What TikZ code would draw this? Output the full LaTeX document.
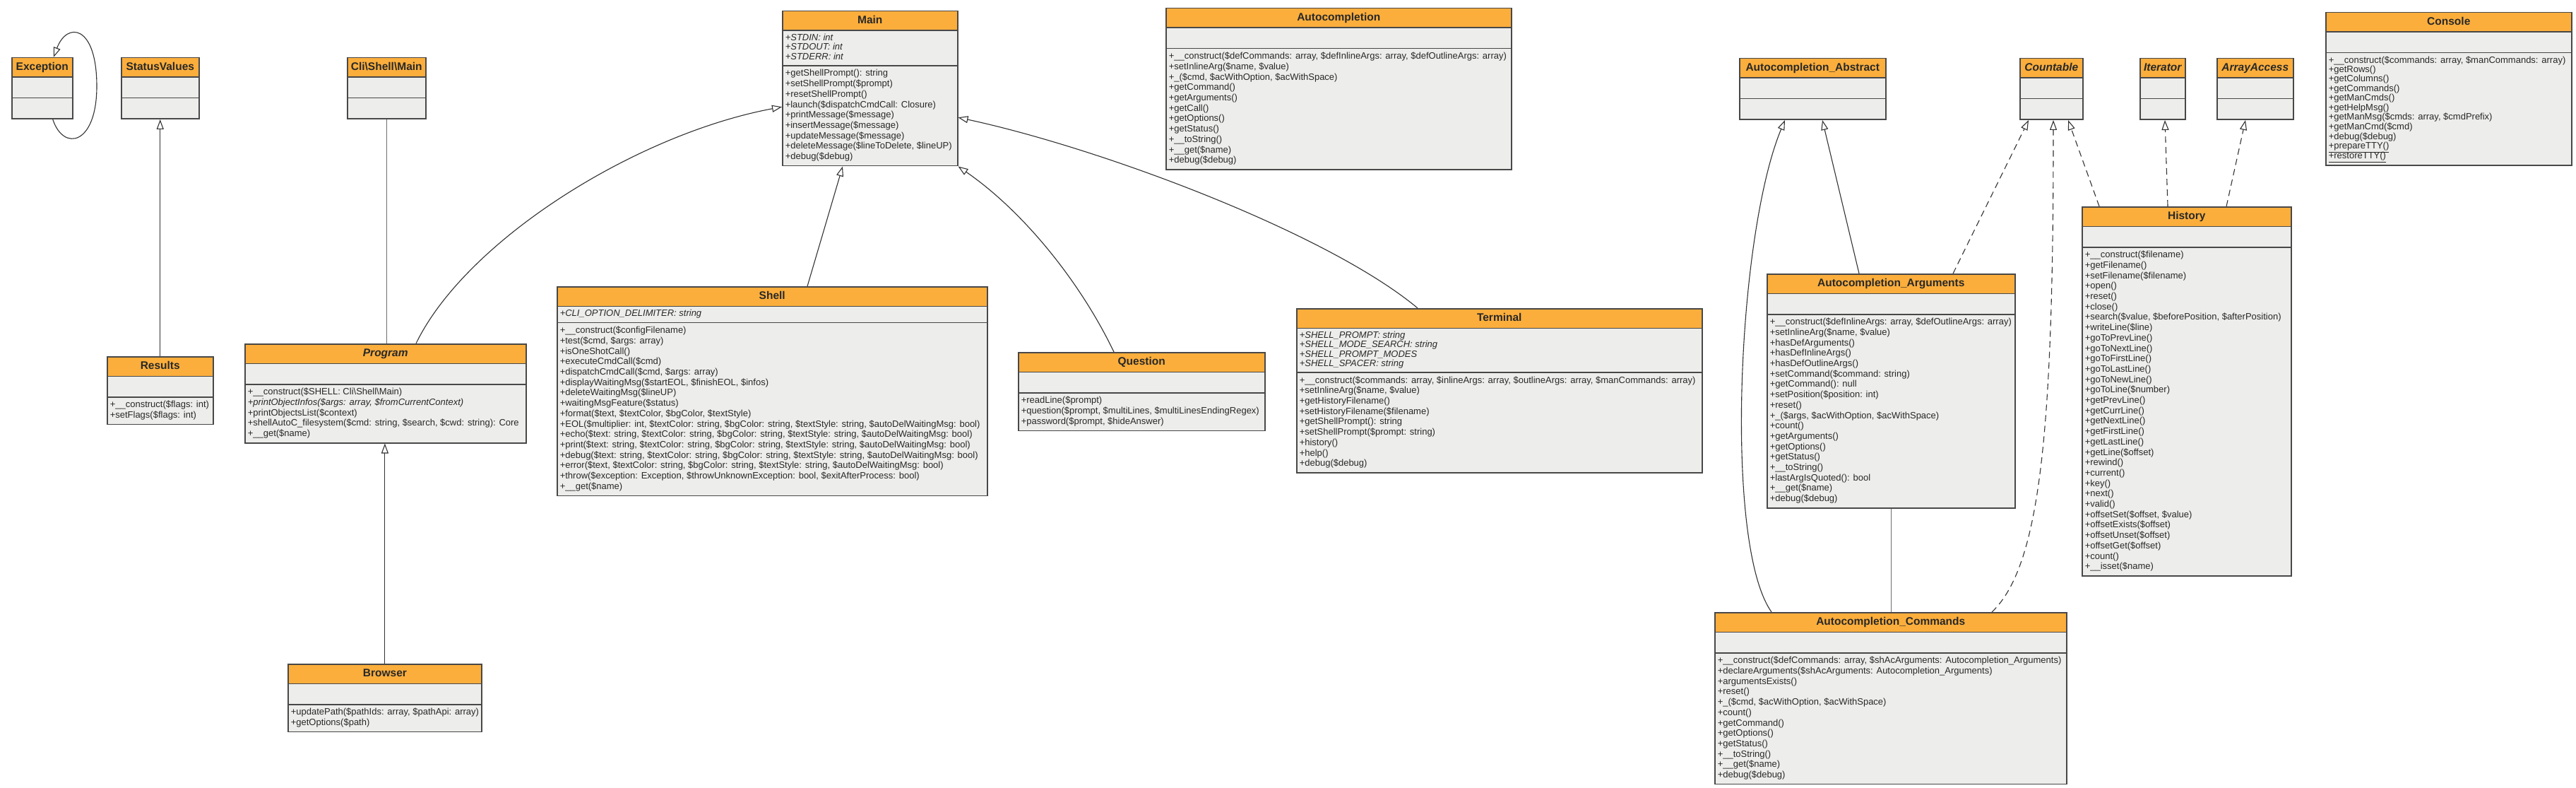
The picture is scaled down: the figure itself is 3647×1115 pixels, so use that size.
\documentclass[tikz,border=0pt]{standalone}
\usepackage{fontspec}
\setmainfont{Liberation Sans}
\usetikzlibrary{shapes.multipart,arrows.meta}
\definecolor{headc}{RGB}{251,174,60}
\definecolor{bodyc}{RGB}{237,237,235}
\definecolor{edgec}{RGB}{72,72,72}
\definecolor{txtc}{RGB}{40,40,40}
\definecolor{linec}{RGB}{50,50,50}
\definecolor{assocc}{RGB}{110,110,110}
\newcommand{\cname}[1]{\rule[-5pt]{0pt}{18pt}{\fontsize{15.5}{17}\selectfont\bfseries #1}}
\newcommand{\nopart}{\rule{0pt}{20pt}}
\newcommand{\mlist}[2][1]{{\renewcommand{\arraystretch}{#1}\begin{tabular}{@{}l@{}}#2\end{tabular}}}

\begin{document}
\begin{tikzpicture}[x=1pt, y=-1pt,
    cls/.style={rectangle split, rectangle split parts=3,
      rectangle split part align={center,left,left},
      rectangle split part fill={headc,bodyc,bodyc},
      draw=edgec, line width=1.5pt, anchor=north west,
      inner xsep=4pt, inner ysep=4pt, text=txtc,
      font=\fontsize{13}{14.7}\selectfont},
    inh/.style={draw=linec, line width=1.1pt, -{Triangle[open, length=14pt, width=10pt, fill=white]}},
    real/.style={inh, dash pattern=on 9pt off 6pt},
    assoc/.style={draw=assocc, line width=1.5pt}]

    \fill[white] (0,0) rectangle (3647,1115);
    \useasboundingbox (0,0) rectangle (3647,1115);

    % Top row
    \node[cls, minimum width=86] (exception) at (16,81) {\cname{Exception}\nodepart{two}\nopart\nodepart{three}\nopart};
    \node[cls, minimum width=110] (statusv) at (171,81) {\cname{StatusValues}\nodepart{two}\nopart\nodepart{three}\nopart};
    \node[cls, minimum width=111] (climain) at (491,81) {\cname{Cli\textbackslash Shell\textbackslash Main}\nodepart{two}\nopart\nodepart{three}\nopart};

    \node[cls, minimum width=248] (main) at (1107,15) {\cname{Main}
      \nodepart{two}\mlist[0.9]{\textit{+STDIN: int}\\\textit{+STDOUT: int}\\\textit{+STDERR: int}}
      \nodepart{three}\mlist{+getShellPrompt(): string\\+setShellPrompt(\$prompt)\\+resetShellPrompt()\\+launch(\$dispatchCmdCall: Closure)\\+printMessage(\$message)\\+insertMessage(\$message)\\+updateMessage(\$message)\\+deleteMessage(\$lineToDelete, \$lineUP)\\+debug(\$debug)}};

    \node[cls, minimum width=489] (autoc) at (1650,11) {\cname{Autocompletion}
      \nodepart{two}\nopart
      \nodepart{three}\mlist{+\_\_construct(\$defCommands: array, \$defInlineArgs: array, \$defOutlineArgs: array)\\+setInlineArg(\$name, \$value)\\+\_(\$cmd, \$acWithOption, \$acWithSpace)\\+getCommand()\\+getArguments()\\+getCall()\\+getOptions()\\+getStatus()\\+\_\_toString()\\+\_\_get(\$name)\\+debug(\$debug)}};

    \node[cls, minimum width=207] (acabs) at (2462,82) {\cname{Autocompletion\_Abstract}\nodepart{two}\nopart\nodepart{three}\nopart};
    \node[cls, minimum width=89] (countable) at (2859,82) {\cname{\itshape Countable}\nodepart{two}\nopart\nodepart{three}\nopart};
    \node[cls, minimum width=64] (iterator) at (3029,82) {\cname{\itshape Iterator}\nodepart{two}\nopart\nodepart{three}\nopart};
    \node[cls, minimum width=108] (arrayacc) at (3138,82) {\cname{\itshape ArrayAccess}\nodepart{two}\nopart\nodepart{three}\nopart};

    \node[cls, minimum width=348] (console) at (3292,17) {\cname{Console}
      \nodepart{two}\nopart
      \nodepart{three}\mlist[0.91]{+\_\_construct(\$commands: array, \$manCommands: array)\\+getRows()\\+getColumns()\\+getCommands()\\+getManCmds()\\+getHelpMsg()\\+getManMsg(\$cmds: array, \$cmdPrefix)\\+getManCmd(\$cmd)\\+debug(\$debug)\\\underline{+prepareTTY()}\\\underline{+restoreTTY()}}};

    % Middle row
    \node[cls, minimum width=150] (results) at (151,504) {\cname{Results}
      \nodepart{two}\nopart
      \nodepart{three}\mlist{+\_\_construct(\$flags: int)\\+setFlags(\$flags: int)}};

    \node[cls, minimum width=398] (program) at (346,486) {\cname{\itshape Program}
      \nodepart{two}\nopart
      \nodepart{three}\mlist{+\_\_construct(\$SHELL: Cli\textbackslash Shell\textbackslash Main)\\\textit{+printObjectInfos(\$args: array, \$fromCurrentContext)}\\+printObjectsList(\$context)\\+shellAutoC\_filesystem(\$cmd: string, \$search, \$cwd: string): Core\\+\_\_get(\$name)}};

    \node[cls, minimum width=609] (shell) at (788,405) {\cname{Shell}
      \nodepart{two}\mlist[0.95]{\textit{+CLI\_OPTION\_DELIMITER: string}}
      \nodepart{three}\mlist{+\_\_construct(\$configFilename)\\+test(\$cmd, \$args: array)\\+isOneShotCall()\\+executeCmdCall(\$cmd)\\+dispatchCmdCall(\$cmd, \$args: array)\\+displayWaitingMsg(\$startEOL, \$finishEOL, \$infos)\\+deleteWaitingMsg(\$lineUP)\\+waitingMsgFeature(\$status)\\+format(\$text, \$textColor, \$bgColor, \$textStyle)\\+EOL(\$multiplier: int, \$textColor: string, \$bgColor: string, \$textStyle: string, \$autoDelWaitingMsg: bool)\\+echo(\$text: string, \$textColor: string, \$bgColor: string, \$textStyle: string, \$autoDelWaitingMsg: bool)\\+print(\$text: string, \$textColor: string, \$bgColor: string, \$textStyle: string, \$autoDelWaitingMsg: bool)\\+debug(\$text: string, \$textColor: string, \$bgColor: string, \$textStyle: string, \$autoDelWaitingMsg: bool)\\+error(\$text, \$textColor: string, \$bgColor: string, \$textStyle: string, \$autoDelWaitingMsg: bool)\\+throw(\$exception: Exception, \$throwUnknownException: bool, \$exitAfterProcess: bool)\\+\_\_get(\$name)}};

    \node[cls, minimum width=349] (question) at (1441,498) {\cname{Question}
      \nodepart{two}\nopart
      \nodepart{three}\mlist{+readLine(\$prompt)\\+question(\$prompt, \$multiLines, \$multiLinesEndingRegex)\\+password(\$prompt, \$hideAnswer)}};

    \node[cls, minimum width=574] (terminal) at (1835,436) {\cname{Terminal}
      \nodepart{two}\mlist[0.9]{\textit{+SHELL\_PROMPT: string}\\\textit{+SHELL\_MODE\_SEARCH: string}\\\textit{+SHELL\_PROMPT\_MODES}\\\textit{+SHELL\_SPACER: string}}
      \nodepart{three}\mlist{+\_\_construct(\$commands: array, \$inlineArgs: array, \$outlineArgs: array, \$manCommands: array)\\+setInlineArg(\$name, \$value)\\+getHistoryFilename()\\+setHistoryFilename(\$filename)\\+getShellPrompt(): string\\+setShellPrompt(\$prompt: string)\\+history()\\+help()\\+debug(\$debug)}};

    \node[cls, minimum width=351] (acargs) at (2501,387) {\cname{Autocompletion\_Arguments}
      \nodepart{two}\nopart
      \nodepart{three}\mlist{+\_\_construct(\$defInlineArgs: array, \$defOutlineArgs: array)\\+setInlineArg(\$name, \$value)\\+hasDefArguments()\\+hasDefInlineArgs()\\+hasDefOutlineArgs()\\+setCommand(\$command: string)\\+getCommand(): null\\+setPosition(\$position: int)\\+reset()\\+\_(\$args, \$acWithOption, \$acWithSpace)\\+count()\\+getArguments()\\+getOptions()\\+getStatus()\\+\_\_toString()\\+lastArgIsQuoted(): bool\\+\_\_get(\$name)\\+debug(\$debug)}};

    \node[cls, minimum width=296] (history) at (2947,292) {\cname{History}
      \nodepart{two}\nopart
      \nodepart{three}\mlist{+\_\_construct(\$filename)\\+getFilename()\\+setFilename(\$filename)\\+open()\\+reset()\\+close()\\+search(\$value, \$beforePosition, \$afterPosition)\\+writeLine(\$line)\\+goToPrevLine()\\+goToNextLine()\\+goToFirstLine()\\+goToLastLine()\\+goToNewLine()\\+goToLine(\$number)\\+getPrevLine()\\+getCurrLine()\\+getNextLine()\\+getFirstLine()\\+getLastLine()\\+getLine(\$offset)\\+rewind()\\+current()\\+key()\\+next()\\+valid()\\+offsetSet(\$offset, \$value)\\+offsetExists(\$offset)\\+offsetUnset(\$offset)\\+offsetGet(\$offset)\\+count()\\+\_\_isset(\$name)}};

    % Bottom row
    \node[cls, minimum width=274] (browser) at (407,939) {\cname{Browser}
      \nodepart{two}\nopart
      \nodepart{three}\mlist{+updatePath(\$pathIds: array, \$pathApi: array)\\+getOptions(\$path)}};

    \node[cls, minimum width=498] (accmds) at (2427,866) {\cname{Autocompletion\_Commands}
      \nodepart{two}\nopart
      \nodepart{three}\mlist{+\_\_construct(\$defCommands: array, \$shAcArguments: Autocompletion\_Arguments)\\+declareArguments(\$shAcArguments: Autocompletion\_Arguments)\\+argumentsExists()\\+reset()\\+\_(\$cmd, \$acWithOption, \$acWithSpace)\\+count()\\+getCommand()\\+getOptions()\\+getStatus()\\+\_\_toString()\\+\_\_get(\$name)\\+debug(\$debug)}};

    % Connectors
    \draw[inh] ([xshift=15pt]exception.south) .. controls (90,215) and (137,205) .. (137,122) .. controls (137,35) and (95,30) .. ([xshift=16pt]exception.north);
    \draw[inh] (results.north) -- (statusv.south);
    \draw[assoc] (climain.south) -- (climain.south |- program.north);
    \draw[inh] ([xshift=243pt]program.north west) .. controls (660,340) and (900,190) .. ([yshift=-26pt]main.west);
    \draw[inh] ([xshift=355pt]shell.north west) -- ([xshift=86pt]main.south west);
    \draw[inh] ([xshift=136pt]question.north west) .. controls (1530,400) and (1450,300) .. (main.south east);
    \draw[inh] ([xshift=172pt]terminal.north west) .. controls (1880,330) and (1560,210) .. ([yshift=-41pt]main.east);
    \draw[inh] (browser.north) -- (browser.north |- program.south);

    \draw[inh] ([xshift=131pt]acargs.north west) -- ([xshift=118pt]acabs.south west);
    \draw[inh] ([xshift=81pt]accmds.north west) .. controls (2440,770) and (2460,330) .. ([xshift=65pt]acabs.south west);
    \draw[assoc] (acargs.south) -- (acargs.south |- accmds.north);
    \draw[real] ([xshift=264pt]acargs.north west) -- ([xshift=13pt]countable.south west);
    \draw[real] ([xshift=393pt]accmds.north west) .. controls (2890,800) and (2907,600) .. ([xshift=48pt]countable.south west);
    \draw[real] ([xshift=25pt]history.north west) -- ([xshift=69pt]countable.south west);
    \draw[real] ([xshift=122pt]history.north west) -- ([xshift=36pt]iterator.south west);
    \draw[real] ([xshift=205pt]history.north west) -- ([xshift=41pt]arrayacc.south west);

\end{tikzpicture}
\end{document}
